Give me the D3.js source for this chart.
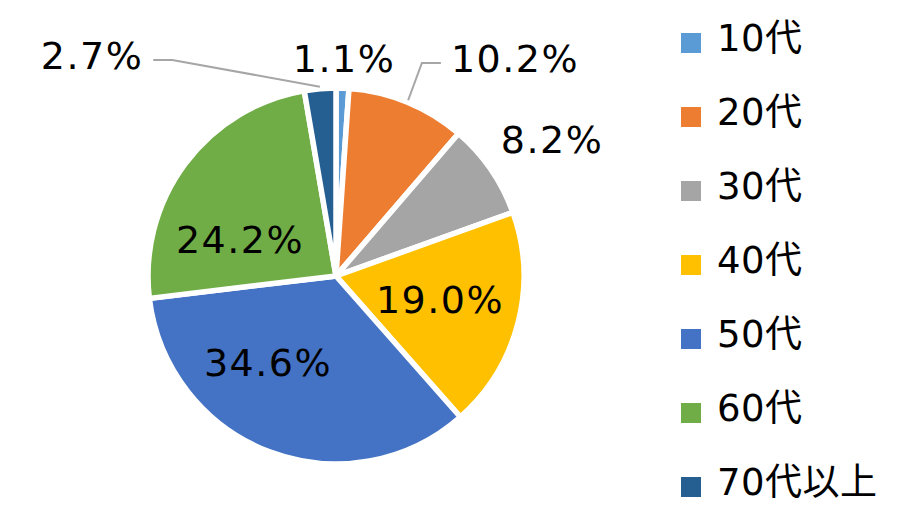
<!DOCTYPE html>
<html>
<head>
<meta charset="utf-8">
<script src="https://cdn.jsdelivr.net/npm/d3@7"></script>
<style>
  body { margin: 0; background: #fff; }
  text { font-family: "DejaVu Sans", "Noto Sans CJK JP", sans-serif; }
</style>
</head>
<body>
<script>
// data
var ages = ['10代', '20代', '30代', '40代', '50代', '60代', '70代以上']
var shares = [1.1, 10.2, 8.2, 19.0, 34.6, 24.2, 2.7]
var colors = ['#5B9BD5', '#ED7D31', '#A5A5A5', '#FFC000', '#4472C4', '#70AD47', '#255E91']

// label placement relative to pie centre (layout only)
var labelShift = [[8, -204], [179, -204], [216, -123], [104, 37], [-68, 100], [-96, -23], [-244, -207]]
// slices whose label sits outside and gets a leader line
var leaders = [1, 6]

var width = 916, height = 532
var cx = 336, cy = 276, radius = 188

var svg = d3.select('body').append('svg')
    .attr('width', width)
    .attr('height', height)

var pie = d3.pie().sort(null).value(function(d) { return d })
var arcs = pie(shares)

var arc = d3.arc().innerRadius(0).outerRadius(radius)

var g = svg.append('g')
    .attr('transform', 'translate(' + cx + ',' + cy + ')')

g.selectAll('path.slice')
    .data(arcs)
    .enter()
    .append('path')
    .attr('class', 'slice')
    .attr('d', arc)
    .attr('fill', function(d, i) { return colors[i] })
    .attr('stroke', '#fff')
    .attr('stroke-width', 5.5)

var labels = g.selectAll('text.lbl')
    .data(arcs)
    .enter()
    .append('text')
    .attr('class', 'lbl')
    .attr('text-anchor', 'middle')
    .attr('x', function(d, i) { return labelShift[i][0] })
    .attr('y', function(d, i) { return labelShift[i][1] })
    .attr('font-size', '38px')
    .attr('letter-spacing', '1.5px')
    .attr('fill', '#000')
    .text(function(d) { return d.data.toFixed(1) + '%' })

// leader lines
leaders.forEach(function(i) {
    var a = arcs[i]
    var mid = (a.startAngle + a.endAngle) / 2
    var r0 = radius + 2
    var p0 = [r0 * Math.sin(mid), -r0 * Math.cos(mid)]
    var box = labels.nodes()[i].getBBox()
    var s = labelShift[i]
    var side = s[0] > 0 ? -1 : 1
    var edge = side < 0 ? box.x : box.x + box.width
    var yLine = s[1] - 9
    var p2 = [edge + side * 10, yLine]
    var p1 = [p2[0] + side * 19, yLine]
    g.append('path')
        .attr('d', d3.line()([p0, p1, p2]))
        .attr('fill', 'none')
        .attr('stroke', '#A6A6A6')
        .attr('stroke-width', 2)
})

// legend
var legend = svg.append('g')
    .attr('transform', 'translate(681,33)')

var item = legend.selectAll('g')
    .data(ages)
    .enter()
    .append('g')
    .attr('transform', function(d, i) { return 'translate(0,' + i * 74 + ')' })

item.append('rect')
    .attr('width', 20)
    .attr('height', 20)
    .attr('fill', function(d, i) { return colors[i] })

item.append('text')
    .attr('x', 36)
    .attr('y', 18)
    .attr('font-size', '37px')
    .attr('letter-spacing', '0.5px')
    .attr('fill', '#000')
    .text(function(d) { return d })
</script>
</body>
</html>
